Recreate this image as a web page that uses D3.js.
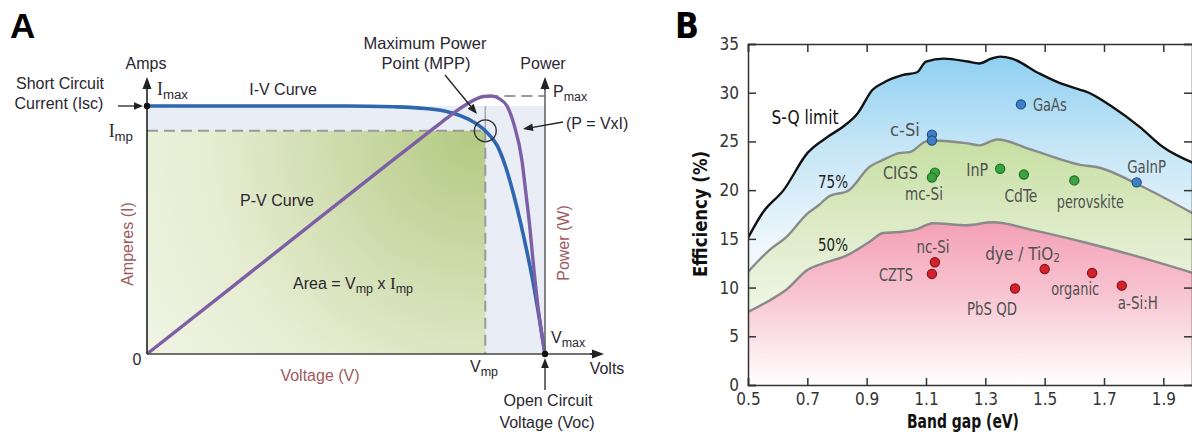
<!DOCTYPE html>
<html><head><meta charset="utf-8">
<script src="https://cdn.jsdelivr.net/npm/d3@7/dist/d3.min.js"></script>
<style>
body{margin:0;background:#fff;}
svg{display:block;}
text{font-family:"Liberation Sans",Arial,sans-serif;}
.nar, .nar text{font-family:"Liberation Sans Narrow","Arial Narrow","DejaVu Sans Condensed",Roboto,sans-serif;}
</style></head><body>
<svg id="chart" width="1192" height="432"></svg>
<script>
// ---------------- Panel A data (normalised: V/Voc, I/Isc, P/Pmax) ----------------
const ivVoltage = [0, 0.3, 0.5, 0.62, 0.7, 0.76, 0.81, 0.85, 0.88, 0.9, 0.92, 0.94, 0.955, 0.97, 0.985, 1];
const ivCurrent = [1, 1, 1, 0.997, 0.99, 0.975, 0.945, 0.90, 0.84, 0.76, 0.65, 0.52, 0.41, 0.29, 0.15, 0];
const pvVoltage = [0, 0.3, 0.6, 0.7, 0.74, 0.77, 0.8, 0.825, 0.845, 0.865, 0.885, 0.905, 0.922, 0.942, 0.952, 0.962, 0.97, 0.985, 1];
const pvPower   = [0, 0.365, 0.73, 0.85, 0.898, 0.934, 0.965, 0.987, 0.998, 1, 0.99, 0.96, 0.89, 0.751, 0.623, 0.49, 0.36, 0.15, 0];
const mppVoltage = 0.85, mppCurrent = 0.9, iscCurrent = 1, vocVoltage = 1, pMax = 1;

// ---------------- Panel B data ----------------
const sqGap = [0.5, 0.55, 0.62, 0.7, 0.77, 0.82, 0.87, 0.92, 0.955, 1.02, 1.07, 1.1, 1.16, 1.24, 1.28, 1.32, 1.35, 1.39, 1.48, 1.55, 1.62, 1.64, 1.73, 1.82, 1.9, 2.0];
const sqEff = [15.1, 17.7, 20.0, 23.8, 25.5, 26.5, 27.9, 30.3, 31.0, 31.8, 32.1, 33.2, 33.5, 33.2, 33.0, 33.5, 33.7, 33.5, 32.0, 31.0, 30.3, 30.1, 28.5, 26.5, 24.4, 22.8];
const gap75 = [0.5, 0.574, 0.63, 0.7, 0.74, 0.77, 0.84, 0.91, 0.955, 1.01, 1.045, 1.1, 1.12, 1.24, 1.28, 1.34, 1.46, 1.62, 1.685, 1.82, 2.0];
const eff75 = [11.6, 13.9, 15.2, 17.6, 18.5, 19.3, 20.0, 22.4, 23.1, 23.8, 23.9, 25.0, 25.1, 24.8, 24.6, 25.2, 24.1, 22.6, 22.3, 20.5, 17.6];
const gap50 = [0.5, 0.574, 0.63, 0.7, 0.766, 0.833, 0.91, 0.955, 1.01, 1.07, 1.1, 1.123, 1.237, 1.325, 1.46, 1.64, 1.8, 2.0];
const eff50 = [7.5, 8.7, 9.8, 11.8, 12.6, 13.3, 14.7, 15.6, 15.7, 16.0, 16.4, 16.6, 16.4, 16.7, 15.9, 14.6, 13.3, 11.5];

const cellNames = ["GaAs", "c-Si", "c-Si", "GaInP", "CIGS", "mc-Si", "InP", "CdTe", "perovskite", "nc-Si", "CZTS", "PbS QD", "dye / TiO2", "organic", "a-Si:H"];
const cellGap   = [1.42, 1.12, 1.12, 1.81, 1.13, 1.12, 1.35, 1.43, 1.60, 1.13, 1.12, 1.40, 1.50, 1.66, 1.76];
const cellEff   = [28.8, 25.7, 25.1, 20.8, 21.8, 21.3, 22.2, 21.6, 21.0, 12.6, 11.4, 9.9, 11.9, 11.5, 10.2];
const cellGroup = ["top", "top", "top", "top", "mid", "mid", "mid", "mid", "mid", "low", "low", "low", "low", "low", "low"];
const curveLabels = ["S-Q limit", "75%", "50%"];
const xTicksB = [0.5, 0.7, 0.9, 1.1, 1.3, 1.5, 1.7, 1.9];
const yTicksB = [0, 5, 10, 15, 20, 25, 30, 35];

// ---------------- layout / styles ----------------
const labelLayout = { // dx, dy (label centre relative to point), anchor, width
  "GaAs": [12, 1, "start", 34], "c-Si": [-12, -5, "end", 30], "GaInP": [10, -15, "middle", 39],
  "CIGS": [-17, 0, "end", 35], "mc-Si": [-8, 17, "middle", 38], "InP": [-12, 1, "end", 22],
  "CdTe": [-3, 21, "middle", 33], "perovskite": [16, 22, "middle", 67], "nc-Si": [-2, -15, "middle", 33],
  "CZTS": [-19, 1, "end", 34], "PbS QD": [-23, 20, "middle", 50], "dye / TiO2": [-22, -15, "middle", 0],
  "organic": [-17, 16, "middle", 48], "a-Si:H": [16, 17, "middle", 40]
};
const groupFill = {top: "#3f7fc4", mid: "#3aa23f", low: "#d4212c"};
const groupStroke = {top: "#1f4f8a", mid: "#1f6f25", low: "#8a1018"};

const svg = d3.select("#chart");
const defs = svg.append("defs");

function arrow(g, x1, y1, x2, y2, len, half, color) {
  const a = Math.atan2(y2 - y1, x2 - x1);
  const bx = x2 - len * Math.cos(a), by = y2 - len * Math.sin(a);
  g.append("line").attr("x1", x1).attr("y1", y1).attr("x2", bx).attr("y2", by)
    .attr("stroke", color).attr("stroke-width", 1.3);
  const px = -Math.sin(a) * half, py = Math.cos(a) * half;
  g.append("path").attr("d", `M${x2},${y2}L${bx + px},${by + py}L${bx - px},${by - py}Z`).attr("fill", color);
}
function subLabel(g, x, y, base, sub, opt) {
  opt = opt || {};
  const fs = opt.size || 16;
  const t = g.append("text").attr("x", x).attr("y", y).attr("font-size", fs)
    .attr("fill", opt.color || "#2a2630").attr("text-anchor", opt.anchor || "start");
  t.append("tspan").text(base).attr("font-family", opt.serif ? "'Liberation Serif',serif" : null)
    .attr("font-size", opt.serif ? fs * 1.05 : fs);
  t.append("tspan").text(sub).attr("font-size", fs * 0.78).attr("dy", 4);
  return t;
}

// ======================= PANEL A =======================
const A = svg.append("g");
const xA = d3.scaleLinear().domain([0, vocVoltage]).range([147, 545]);
const yI = d3.scaleLinear().domain([0, iscCurrent]).range([354, 106]);
const yP = d3.scaleLinear().domain([0, pMax]).range([354, 96]);

const rg = defs.append("radialGradient").attr("id", "greenA").attr("gradientUnits", "userSpaceOnUse")
  .attr("cx", 475).attr("cy", 135).attr("r", 380);
rg.append("stop").attr("offset", 0).attr("stop-color", "#b3ca82");
rg.append("stop").attr("offset", 0.35).attr("stop-color", "#cddbab");
rg.append("stop").attr("offset", 0.7).attr("stop-color", "#e6edd1");
rg.append("stop").attr("offset", 1).attr("stop-color", "#eff3e2");

A.append("rect").attr("x", xA(0)).attr("y", yI(iscCurrent)).attr("width", xA(vocVoltage) - xA(0))
  .attr("height", yI(0) - yI(iscCurrent)).attr("fill", "#e9edf5");
A.append("rect").attr("x", xA(0)).attr("y", yI(mppCurrent)).attr("width", xA(mppVoltage) - xA(0))
  .attr("height", yI(0) - yI(mppCurrent)).attr("fill", "url(#greenA)");

// dashed guides
const dash = {stroke: "#9a9a9a", "stroke-width": 2, "stroke-dasharray": "11,6"};
function styl(sel, o) { for (const k in o) sel.attr(k, o[k]); return sel; }
styl(A.append("line").attr("x1", xA(0)).attr("x2", xA(mppVoltage)).attr("y1", yI(mppCurrent)).attr("y2", yI(mppCurrent)), dash);
styl(A.append("line").attr("x1", xA(mppVoltage)).attr("x2", xA(mppVoltage)).attr("y1", yI(mppCurrent)).attr("y2", yI(0)), dash);
A.append("line").attr("x1", xA(mppVoltage)).attr("x2", xA(mppVoltage)).attr("y1", yI(iscCurrent)).attr("y2", yI(mppCurrent))
  .attr("stroke", "#a8a8a8").attr("stroke-width", 1.5);
styl(A.append("line").attr("x1", xA(mppVoltage) + 2).attr("x2", xA(vocVoltage)).attr("y1", yP(pMax)).attr("y2", yP(pMax)), dash);

// curves
const ivData = ivVoltage.map((v, i) => [v, ivCurrent[i]]);
const pvData = pvVoltage.map((v, i) => [v, pvPower[i]]);
A.append("path").attr("d", d3.line().x(d => xA(d[0])).y(d => yI(d[1])).curve(d3.curveMonotoneX)(ivData))
  .attr("fill", "none").attr("stroke", "#2f66b0").attr("stroke-width", 3.6);
A.append("path").attr("d", d3.line().x(d => xA(d[0])).y(d => yP(d[1])).curve(d3.curveMonotoneX)(pvData))
  .attr("fill", "none").attr("stroke", "#7d5fa6").attr("stroke-width", 3.4);

// MPP circle
A.append("circle").attr("cx", xA(mppVoltage)).attr("cy", yI(mppCurrent)).attr("r", 11)
  .attr("fill", "none").attr("stroke", "#333").attr("stroke-width", 1.3);

// axes
const axc = "#222";
A.append("line").attr("x1", xA(0)).attr("x2", xA(0)).attr("y1", yI(0)).attr("y2", 88).attr("stroke", axc).attr("stroke-width", 1.6);
arrow(A, xA(0), 90, xA(0), 77, 12, 4.5, axc);
A.append("line").attr("x1", xA(0)).attr("x2", 592).attr("y1", yI(0)).attr("y2", yI(0)).attr("stroke", "#444").attr("stroke-width", 1.6);
arrow(A, 590, yI(0), 604, yI(0), 12, 4.5, axc);
A.append("line").attr("x1", xA(vocVoltage)).attr("x2", xA(vocVoltage)).attr("y1", yI(0)).attr("y2", 88).attr("stroke", "#666").attr("stroke-width", 1.6);
arrow(A, xA(vocVoltage), 90, xA(vocVoltage), 77, 12, 4.5, axc);
A.append("circle").attr("cx", xA(0)).attr("cy", yI(iscCurrent)).attr("r", 3.2).attr("fill", "#111");
A.append("circle").attr("cx", xA(vocVoltage)).attr("cy", yI(0)).attr("r", 3.2).attr("fill", "#111");

// annotation arrows
arrow(A, 118, 106, 143, 106, 9, 3.8, "#222");
arrow(A, 445, 75, 477, 114, 10, 3.8, "#222");
arrow(A, 563, 122, 523, 129, 10, 3.8, "#222");
arrow(A, xA(vocVoltage), 390, xA(vocVoltage), 358, 10, 3.8, "#222");

// texts
const tc = "#2a2630", brown = "#a05a5e";
function txt(g, x, y, s, o) {
  o = o || {};
  return g.append("text").attr("x", x).attr("y", y).text(s).attr("font-size", o.size || 16)
    .attr("fill", o.color || tc).attr("text-anchor", o.anchor || "start")
    .attr("font-weight", o.weight || null).attr("transform", o.rot ? `rotate(-90,${x},${y})` : null);
}
txt(A, 10, 38, "A", {size: 35, weight: "bold", color: "#000"});
txt(A, 146, 69, "Amps", {anchor: "middle"});
txt(A, 60, 89, "Short Circuit", {anchor: "middle"});
txt(A, 59, 109, "Current (Isc)", {anchor: "middle"});
subLabel(A, 157, 95, "I", "max", {serif: true, size: 17});
txt(A, 283, 95, "I-V Curve", {anchor: "middle"});
subLabel(A, 133, 137, "I", "mp", {serif: true, size: 17, anchor: "end"});
txt(A, 425, 49, "Maximum Power", {anchor: "middle", size: 16.5});
txt(A, 426, 69, "Point (MPP)", {anchor: "middle", size: 16.5});
txt(A, 543, 69, "Power", {anchor: "middle"});
subLabel(A, 553, 97, "P", "max", {size: 16});
txt(A, 566, 129, "(P  =  VxI)", {size: 16});
txt(A, 277, 206, "P-V Curve", {anchor: "middle"});
const areaT = A.append("text").attr("x", 293).attr("y", 289).attr("font-size", 16).attr("fill", tc);
areaT.append("tspan").text("Area = V");
areaT.append("tspan").text("mp").attr("font-size", 12.5).attr("dy", 4);
areaT.append("tspan").text(" x ").attr("dy", -4);
areaT.append("tspan").text("I").attr("font-family", "'Liberation Serif',serif").attr("font-size", 17);
areaT.append("tspan").text("mp").attr("font-size", 12.5).attr("dy", 4);
txt(A, 133, 244, "Amperes (I)", {anchor: "middle", rot: true, color: brown});
txt(A, 569, 243, "Power (W)", {anchor: "middle", rot: true, color: brown});
txt(A, 137, 365, "0", {anchor: "middle"});
txt(A, 320, 381, "Voltage (V)", {anchor: "middle", color: brown});
subLabel(A, 470, 372, "V", "mp", {size: 16});
txt(A, 607, 374, "Volts", {anchor: "middle"});
subLabel(A, 551, 343, "V", "max", {size: 16});
txt(A, 548, 406, "Open Circuit", {anchor: "middle"});
txt(A, 547, 428, "Voltage (Voc)", {anchor: "middle"});

// ======================= PANEL B =======================
const B = svg.append("g").attr("class", "nar");
const xB = d3.scaleLinear().domain([0.5, 2.0]).range([748, 1193]);
const yB = d3.scaleLinear().domain([0, 35]).range([385, 44]);

defs.append("clipPath").attr("id", "clipB").append("rect")
  .attr("x", xB(0.5)).attr("y", yB(35)).attr("width", xB(2.0) - xB(0.5)).attr("height", yB(0) - yB(35));

function linGrad(id, y1, y2, stops) {
  const g = defs.append("linearGradient").attr("id", id).attr("gradientUnits", "userSpaceOnUse")
    .attr("x1", 0).attr("x2", 0).attr("y1", y1).attr("y2", y2);
  stops.forEach(s => g.append("stop").attr("offset", s[0]).attr("stop-color", s[1]));
}
linGrad("blueB", 55, 250, [[0, "#8ecff2"], [0.45, "#c3e5f6"], [1, "#f1f8fd"]]);
linGrad("greenB", 140, 330, [[0, "#c6dfa2"], [0.5, "#dfecca"], [1, "#f4f9ee"]]);
linGrad("pinkB", 225, 385, [[0, "#f4a2b6"], [0.45, "#f8c6d3"], [1, "#ffffff"]]);

const plot = B.append("g").attr("clip-path", "url(#clipB)");
function series(gx, gy) { return gx.map((g, i) => [g, gy[i]]); }
const areaB = d3.area().x(d => xB(d[0])).y0(yB(0)).y1(d => yB(d[1])).curve(d3.curveMonotoneX);
const lineB = d3.line().x(d => xB(d[0])).y(d => yB(d[1])).curve(d3.curveMonotoneX);
const sq = series(sqGap, sqEff), s75 = series(gap75, eff75), s50 = series(gap50, eff50);
plot.append("path").attr("d", areaB(sq)).attr("fill", "url(#blueB)");
plot.append("path").attr("d", areaB(s75)).attr("fill", "url(#greenB)");
plot.append("path").attr("d", areaB(s50)).attr("fill", "url(#pinkB)");
plot.append("path").attr("d", lineB(s75)).attr("fill", "none").attr("stroke", "#8a8a8a").attr("stroke-width", 2.4);
plot.append("path").attr("d", lineB(s50)).attr("fill", "none").attr("stroke", "#8a8a8a").attr("stroke-width", 2.4);
plot.append("path").attr("d", lineB(sq)).attr("fill", "none").attr("stroke", "#111").attr("stroke-width", 2.4);

// axes
const fr = "#333";
const gL = B.append("g").attr("transform", `translate(${xB(0.5)},0)`)
  .call(d3.axisLeft(yB).tickValues(yTicksB).tickSize(-8).tickPadding(9).tickFormat(d3.format("d")));
const gBt = B.append("g").attr("transform", `translate(0,${yB(0)})`)
  .call(d3.axisBottom(xB).tickValues(xTicksB).tickSize(-7).tickPadding(8).tickFormat(d3.format(".1f")));
const gT = B.append("g").attr("transform", `translate(0,${yB(35)})`)
  .call(d3.axisTop(xB).tickValues(xTicksB).tickSize(-8).tickFormat(""));
const gR = B.append("g").attr("transform", `translate(${xB(2.0) - 1},0)`)
  .call(d3.axisRight(yB).tickValues(yTicksB).tickSize(-8).tickFormat(""));
[gL, gBt, gT, gR].forEach(g => {
  g.selectAll(".domain").attr("stroke", fr).attr("stroke-width", 1.5);
  g.selectAll(".tick line").attr("stroke", fr).attr("stroke-width", 1.5);
  g.selectAll("text").attr("font-size", 17).attr("fill", "#333")
    .attr("font-family", "'Liberation Sans Narrow','Arial Narrow','DejaVu Sans Condensed',sans-serif");
});

// points
B.selectAll("circle.cell").data(cellNames.map((n, i) => ({n, g: cellGap[i], e: cellEff[i], grp: cellGroup[i]})))
  .join("circle").attr("class", "cell").attr("cx", d => xB(d.g)).attr("cy", d => yB(d.e)).attr("r", 4.6)
  .attr("fill", d => groupFill[d.grp]).attr("stroke", d => groupStroke[d.grp]).attr("stroke-width", 1.2);

// point labels
const seen = new Set();
cellNames.forEach((n, i) => {
  if (seen.has(n)) return; seen.add(n);
  const L = labelLayout[n];
  const t = B.append("text").attr("x", xB(cellGap[i]) + L[0]).attr("y", yB(cellEff[i]) + L[1] + 6)
    .attr("text-anchor", L[2]).attr("font-size", 17).attr("fill", "#505050");
  if (n === "dye / TiO2") {
    t.append("tspan").text("dye / TiO");
    t.append("tspan").text("2").attr("font-size", 12).attr("dy", 2);
  } else {
    t.text(n);
    if (L[3]) t.attr("textLength", L[3]).attr("lengthAdjust", "spacingAndGlyphs");
  }
});

// curve labels
B.append("text").attr("x", 805).attr("y", 124).attr("text-anchor", "middle").attr("font-size", 19).attr("fill", "#111")
  .attr("textLength", 67).attr("lengthAdjust", "spacingAndGlyphs").text(curveLabels[0]);
B.append("text").attr("x", 833).attr("y", 188).attr("text-anchor", "middle").attr("font-size", 18).attr("fill", "#222")
  .attr("textLength", 30).attr("lengthAdjust", "spacingAndGlyphs").text(curveLabels[1]);
B.append("text").attr("x", 833).attr("y", 251).attr("text-anchor", "middle").attr("font-size", 18).attr("fill", "#222")
  .attr("textLength", 30).attr("lengthAdjust", "spacingAndGlyphs").text(curveLabels[2]);

// axis titles
B.append("text").attr("x", 963).attr("y", 428).attr("text-anchor", "middle").attr("font-size", 20)
  .attr("font-weight", "bold").attr("fill", "#111").attr("textLength", 112).attr("lengthAdjust", "spacingAndGlyphs")
  .text("Band gap (eV)");
B.append("text").attr("x", 707).attr("y", 214).attr("text-anchor", "middle").attr("font-size", 20)
  .attr("font-weight", "bold").attr("fill", "#111").attr("transform", "rotate(-90,707,214)")
  .attr("textLength", 126).attr("lengthAdjust", "spacingAndGlyphs").text("Efficiency (%)");
B.append("text").attr("x", 675).attr("y", 38).attr("font-size", 35).attr("font-weight", "bold")
  .attr("fill", "#000").attr("font-family", "'Liberation Sans',Arial,sans-serif").text("B");
</script>
</body></html>
